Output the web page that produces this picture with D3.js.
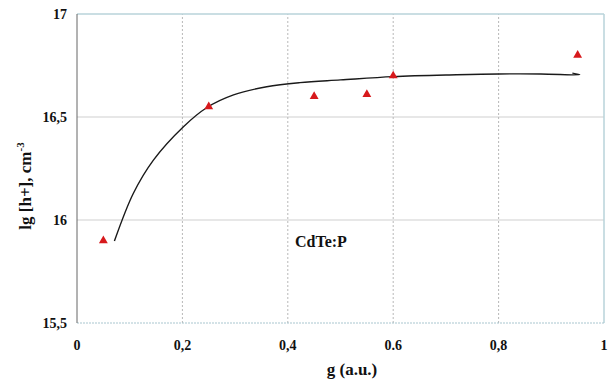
<!DOCTYPE html>
<html>
<head>
<meta charset="utf-8">
<script src="https://cdn.jsdelivr.net/npm/d3@7"></script>
<style>
  html, body { margin: 0; padding: 0; background: #fff; }
  svg { display: block; }
</style>
</head>
<body>
<svg id="chart" width="608" height="380"></svg>
<script>
// Measured points: hole concentration vs. g
const gValues = [0.05, 0.25, 0.45, 0.55, 0.60, 0.95];
const lgH = [15.90, 16.55, 16.60, 16.61, 16.70, 16.80];

// Smoothed trend line
const fitG = [0.071, 0.107, 0.145, 0.202, 0.246, 0.297, 0.36, 0.423, 0.50, 0.60, 0.72, 0.80, 0.88, 0.954, 0.94];
const fitLg = [15.898, 16.13, 16.291, 16.453, 16.545, 16.607, 16.647, 16.667, 16.68, 16.696, 16.705, 16.709, 16.709, 16.705, 16.713];

const xTicks = [0, 0.2, 0.4, 0.6, 0.8, 1];
const xTickLabels = ["0", "0,2", "0,4", "0.6", "0,8", "1"];
const yTicks = [15.5, 16, 16.5, 17];
const yTickLabels = ["15,5", "16", "16,5", "17"];

const FONT = "'Liberation Serif', 'Tinos', 'DejaVu Serif', 'Noto Serif', 'FreeSerif', 'Times New Roman', Times, serif";

const svg = d3.select("#chart")
  .attr("font-family", FONT)
  .attr("font-weight", "bold")
  .attr("fill", "#111");
const margin = { left: 77, top: 14, right: 4, bottom: 57 };
const W = 608, H = 380;

const x = d3.scaleLinear().domain([0, 1]).range([margin.left, W - margin.right]);
const y = d3.scaleLinear().domain([15.5, 17]).range([H - margin.bottom, margin.top]);

// Grid lines
svg.append("g").selectAll("line").data(yTicks.filter(v => v > 15.5 && v < 17)).join("line")
  .attr("x1", x(0)).attr("x2", x(1))
  .attr("y1", d => y(d)).attr("y2", d => y(d))
  .attr("stroke", "#cfcfcf").attr("stroke-width", 1);

svg.append("g").selectAll("line").data(xTicks.filter(v => v > 0 && v < 1)).join("line")
  .attr("x1", d => x(d)).attr("x2", d => x(d))
  .attr("y1", y(15.5)).attr("y2", y(17))
  .attr("stroke", "#b8b8b8").attr("stroke-width", 1).attr("stroke-dasharray", "2,2");

// Frame
svg.append("line").attr("x1", x(0)).attr("x2", x(1)).attr("y1", y(17)).attr("y2", y(17))
  .attr("stroke", "#b9d3da").attr("stroke-width", 1.5);
svg.append("line").attr("x1", x(1)).attr("x2", x(1)).attr("y1", y(17)).attr("y2", y(15.5))
  .attr("stroke", "#b9d3da").attr("stroke-width", 1.5);
svg.append("line").attr("x1", x(0)).attr("x2", x(1)).attr("y1", y(15.5)).attr("y2", y(15.5))
  .attr("stroke", "#a9c6cf").attr("stroke-width", 1).attr("stroke-dasharray", "2,1");
svg.append("line").attr("x1", x(0)).attr("x2", x(0)).attr("y1", y(17)).attr("y2", y(15.5))
  .attr("stroke", "#666").attr("stroke-width", 1);

// Tick labels
svg.append("g").selectAll("text").data(yTicks).join("text")
  .attr("font-family", FONT)
  .attr("x", 67).attr("y", d => y(d) + 5)
  .attr("text-anchor", "end").attr("font-size", 14)
  .text((d, i) => yTickLabels[i]);

svg.append("g").selectAll("text").data(xTicks).join("text")
  .attr("font-family", FONT)
  .attr("x", d => x(d)).attr("y", 350)
  .attr("text-anchor", "middle").attr("font-size", 14)
  .text((d, i) => xTickLabels[i]);

// Axis titles
svg.append("text").attr("font-family", FONT).attr("x", 352).attr("y", 375)
  .attr("text-anchor", "middle").attr("font-size", 17).text("g (a.u.)");

const yTitle = svg.append("text").attr("font-family", FONT)
  .attr("transform", "translate(31,186) rotate(-90)")
  .attr("text-anchor", "middle").attr("font-size", 17);
yTitle.append("tspan").text("lg [h+], cm");
yTitle.append("tspan").attr("font-size", 11).attr("dy", -7).text("-3");

// Trend line
const line = d3.line().x(d => x(d[0])).y(d => y(d[1])).curve(d3.curveCatmullRom.alpha(0.5));
svg.append("path")
  .datum(fitG.map((g, i) => [g, fitLg[i]]))
  .attr("d", line)
  .attr("fill", "none").attr("stroke", "#1a1a1a").attr("stroke-width", 1.4);

// Markers
const tri = d3.symbol().type(d3.symbolTriangle).size(34);
svg.append("g").selectAll("path").data(gValues).join("path")
  .attr("transform", (d, i) => `translate(${x(d)},${y(lgH[i])})`)
  .attr("d", tri)
  .attr("fill", "#d7191c");

// Sample label
svg.append("text").attr("font-family", FONT).attr("x", 295).attr("y", 247).attr("font-size", 16).text("CdTe:P");
</script>
</body>
</html>
